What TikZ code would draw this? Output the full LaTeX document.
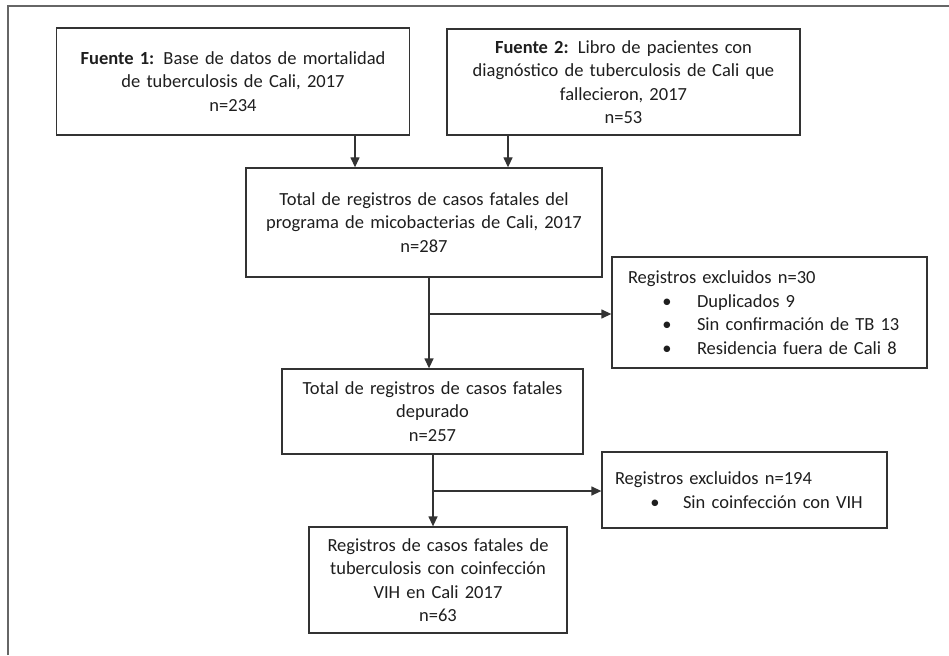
\documentclass[tikz,border=0pt]{standalone}
\usepackage{fontspec}
\setmainfont{Carlito}
\usetikzlibrary{arrows.meta}
\definecolor{ln}{HTML}{333333}
\definecolor{tx}{HTML}{1E1E1E}
\newcommand{\bitemA}[1]{\hspace*{39pt}\makebox[0pt]{\textbullet}\hspace*{30pt}#1}
\newcommand{\bitemB}[1]{\hspace*{40pt}\makebox[0pt]{\textbullet}\hspace*{28pt}#1}
\begin{document}
\begin{tikzpicture}[x=1pt,y=-1pt,
  box/.style={draw=ln,line width=1.3pt,rectangle,inner xsep=6pt,inner ysep=0pt,align=center,
    text=tx,font=\fontsize{18.5}{23.5}\selectfont},
  lbox/.style={draw=ln,line width=1.3pt,rectangle,inner ysep=0pt,align=left,
    text=tx,font=\fontsize{18.5}{23.5}\selectfont},
  arr/.style={draw=ln,line width=1.3pt,-{Triangle[length=10pt,width=9pt]}},
  ln/.style={draw=ln,line width=1.3pt}]
\useasboundingbox (0,0) rectangle (949,655);
\draw[draw=gray!80!black,line width=2pt] (8,655) -- (8,6.5) -- (949,6.5);

\node[box,text width=341pt,minimum height=107pt] (b1) at (233,81.5)
  {\textbf{Fuente 1:} Base de datos de mortalidad\\de tuberculosis de Cali, 2017\\n=234};
\node[box,text width=341pt,minimum height=106pt] (b2) at (623.5,82)
  {\textbf{Fuente 2:} Libro de pacientes con\\diagnóstico de tuberculosis de Cali que\\fallecieron, 2017\\n=53};
\node[box,text width=344pt,minimum height=109pt] (b3) at (424,222.5)
  {Total de registros de casos fatales del\\programa de micobacterias de Cali, 2017\\n=287};
\node[lbox,inner xsep=16pt,text width=283pt,minimum height=111pt] (b5) at (769.5,312.5)
  {Registros excluidos n=30\\\bitemA{Duplicados 9}\\\bitemA{Sin confirmación de TB 13}\\\bitemA{Residencia fuera de Cali 8}};
\node[box,text width=289pt,minimum height=85pt] (b4) at (432.5,411.5)
  {Total de registros de casos fatales\\depurado\\n=257};
\node[lbox,inner xsep=13pt,text width=259pt,minimum height=76pt] (b7) at (744.5,490)
  {Registros excluidos n=194\\\bitemB{Sin coinfección con VIH}};
\node[box,text width=246pt,minimum height=106pt] (b6) at (438,580)
  {Registros de casos fatales de\\tuberculosis con coinfección\\VIH en Cali 2017\\n=63};

\coordinate (x1) at (355,0);
\coordinate (x2) at (508,0);
\coordinate (x3) at (429,0);
\coordinate (x4) at (433,0);
\coordinate (y1) at (0,314);
\coordinate (y2) at (0,491);
\coordinate (j1) at (x3 |- y1);
\coordinate (j2) at (x4 |- y2);

\draw[arr] (x1 |- b1.south) -- (x1 |- b3.north);
\draw[arr] (x2 |- b2.south) -- (x2 |- b3.north);
\draw[arr] (x3 |- b3.south) -- (x3 |- b4.north);
\draw[arr] (j1) -- (b5.west |- j1);
\draw[arr] (x4 |- b4.south) -- (x4 |- b6.north);
\draw[arr] (j2) -- (b7.west |- j2);
\end{tikzpicture}
\end{document}
